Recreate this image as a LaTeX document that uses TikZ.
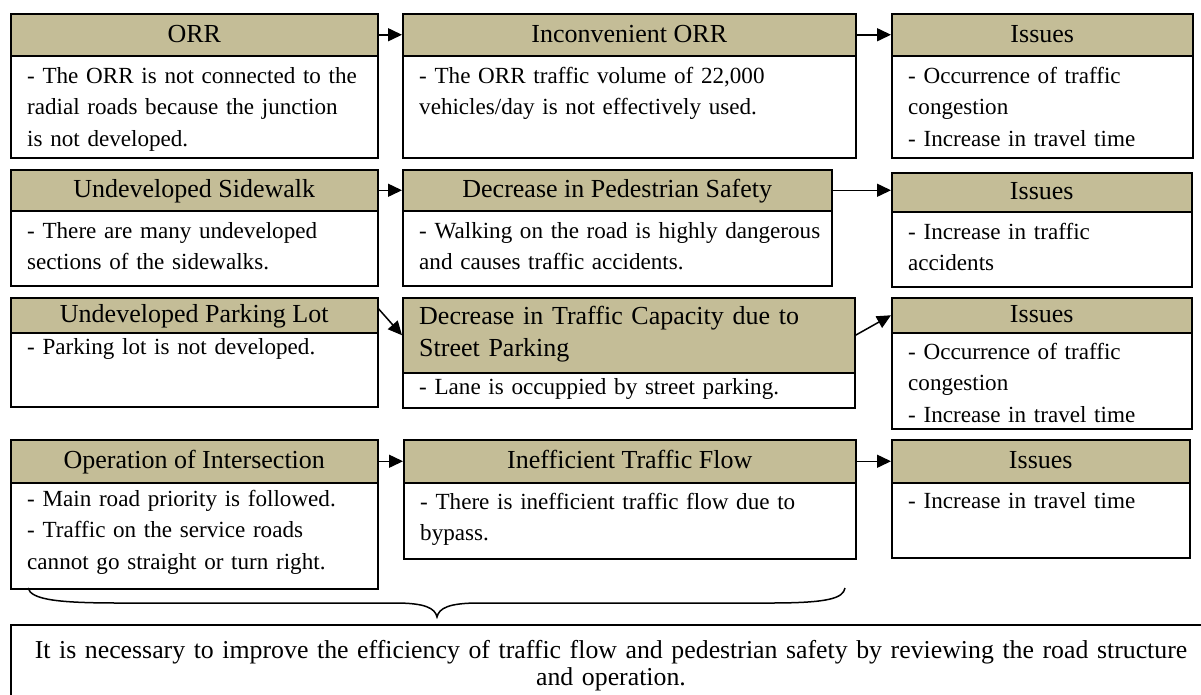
\documentclass[tikz,border=0pt]{standalone}
\usepackage{fontspec}
\setmainfont{Liberation Serif}
\usetikzlibrary{arrows.meta}
\definecolor{hdrfill}{HTML}{C4BD97}
\newcommand\hdrfont{\fontsize{26}{32}\selectfont}
\newcommand\bodyfont{\fontsize{23.1}{31.5}\selectfont}
\tikzset{
  hdrbox/.style={draw=black, line width=1.5pt, fill=hdrfill, inner sep=0pt, font=\hdrfont, anchor=north west, text height=20pt, text depth=4.6pt},
  bodybox/.style={draw=black, line width=1.5pt, fill=white, inner sep=0pt, anchor=north west},
  btext/.style={inner sep=0pt, font=\bodyfont, align=left, anchor=base west, text width=600pt},
  arr/.style={line width=1.5pt, -{Triangle[length=14pt,width=13pt]}},
  bracestyle/.style={line width=1.5pt}
}
% #1 name, #2 x1, #3 x2, #4 ytop, #5 y header bottom, #6 y bottom, #7 header, #8 baseline offset, #9 body
\newcommand\mycell[9]{%
  \node[hdrbox, minimum width={(#3-#2)*1pt}, minimum height={(#5-#4)*1pt}] (h#1) at (#2,#4) {#7};
  \node[bodybox, minimum width={(#3-#2)*1pt}, minimum height={(#6-#5)*1pt}] (b#1) at (#2,#5) {};
  \node[btext] (t#1) at (#2+17,#5+#8) {#9};
}
\begin{document}
\begin{tikzpicture}[x=1pt,y=-1pt]
\useasboundingbox (0,0) rectangle (1201,694);
% row 1
\mycell{11}{10}{377}{13}{55}{157}{ORR}{28}{- The ORR is not connected to the\\radial roads because the junction\\is not developed.}
\mycell{12}{402}{855}{13}{55}{157}{Inconvenient ORR}{28}{- The ORR traffic volume of 22,000\\vehicles/day is not effectively used.}
\mycell{13}{891}{1192}{13}{55}{157}{Issues}{28}{- Occurrence of traffic\\congestion\\- Increase in travel time}
% row 2
\mycell{21}{10}{377}{169}{210}{285}{Undeveloped Sidewalk}{28}{- There are many undeveloped\\sections of the sidewalks.}
\mycell{22}{402}{831}{169}{210}{285}{Decrease in Pedestrian Safety}{28}{- Walking on the road is highly dangerous\\and causes traffic accidents.}
\mycell{23}{891}{1191}{172}{211}{286}{Issues}{28}{- Increase in traffic\\accidents}
% row 3
\mycell{31}{10}{377}{297}{332}{406}{Undeveloped Parking Lot}{22}{- Parking lot is not developed.}
\node[hdrbox, minimum width=452pt, minimum height=75pt, text height=0pt, text depth=0pt] (h32) at (402,297) {};
\node[inner sep=0pt, font=\hdrfont, align=left, text width=440pt, anchor=west] (ht32) at (419,334.5) {Decrease in Traffic Capacity due to\\Street Parking};
\node[bodybox, minimum width=452pt, minimum height=35pt] (b32) at (402,372) {};
\node[btext] (t32) at (419,394) {- Lane is occuppied by street parking.};
\mycell{33}{891}{1191}{297}{332}{428}{Issues}{27}{- Occurrence of traffic\\congestion\\- Increase in travel time}
% row 4
\mycell{41}{10}{377}{439}{482}{588}{Operation of Intersection}{24}{- Main road priority is followed.\\- Traffic on the service roads\\cannot go straight or turn right.}
\mycell{42}{403}{855}{439}{482}{558}{Inefficient Traffic Flow}{27}{- There is inefficient traffic flow due to\\bypass.}
\mycell{43}{891}{1189}{439}{482}{557}{Issues}{26}{- Increase in travel time}
% arrows
\draw[arr] (h11.east) -- (h12.west);
\draw[arr] (h12.east) -- (h13.west);
\draw[arr] (h21.east) -- (h22.west);
\draw[arr] (h22.east) -- (h22.east -| h23.west);
\draw[arr] ([yshift=6.5pt]h31.east) -- (h32.west);
\draw[arr] (h32.east) -- (h33.west);
\draw[arr] (h41.east) -- (h42.west);
\draw[arr] (h42.east) -- (h43.west);
% brace
\coordinate (bl) at (28,588);
\coordinate (br) at (845,588);
\coordinate (btip) at (437,617);
\draw[bracestyle] (bl) .. controls (31,600) and (60,603) .. (120,603) -- (395,603)
  .. controls (425,603) and (435,608) .. (btip)
  .. controls (439,608) and (449,603) .. (479,603) -- (770,603)
  .. controls (830,603) and (843,598) .. (br);
% summary
\node[bodybox, minimum width=1210pt, minimum height=80pt] (sum) at (10,624) {};
\node[inner sep=0pt, font=\fontsize{25.8}{27}\selectfont, align=center, text width=1190pt, anchor=base] (sumtext) at (611,658) {It is necessary to improve the efficiency of traffic flow and pedestrian safety by reviewing the road structure\\and operation.};
\end{tikzpicture}
\end{document}
